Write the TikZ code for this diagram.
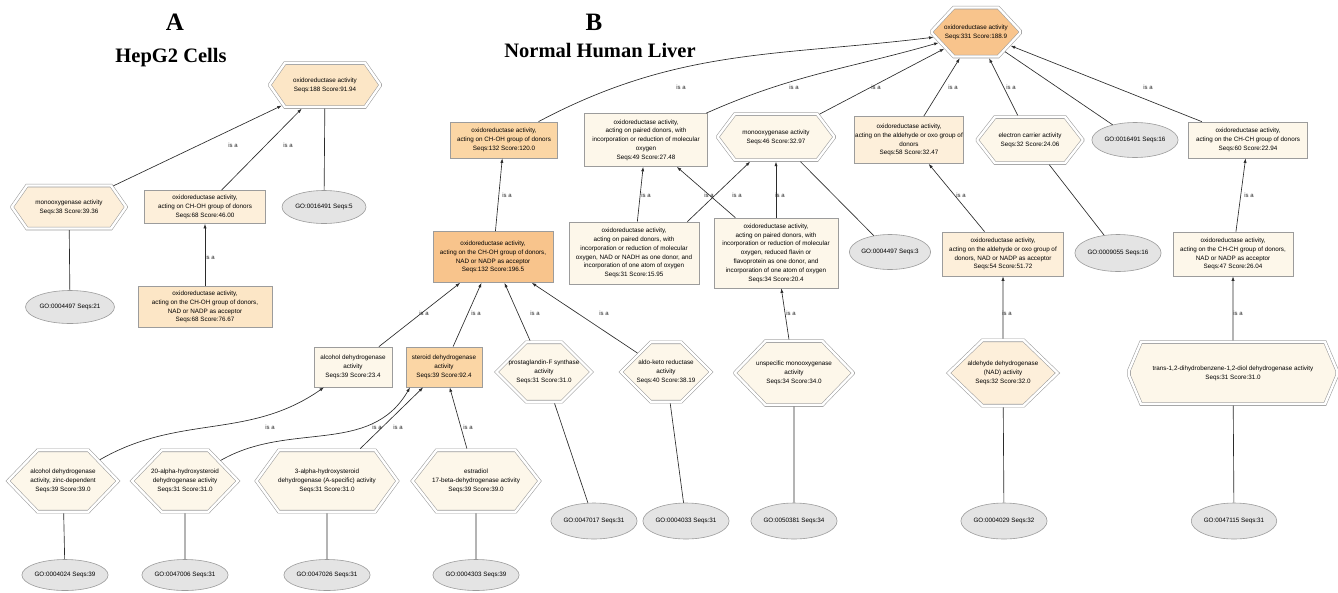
\documentclass[tikz,border=0pt]{standalone}
\usepackage{fontspec}
\setmainfont{Liberation Sans}
\newfontfamily\headfont{Liberation Serif}
\usetikzlibrary{shapes.misc,shapes.geometric,arrows.meta,calc}

\definecolor{linegray}{HTML}{9C9C9C}
\definecolor{edgeink}{HTML}{2B2B2B}
\definecolor{goshade}{HTML}{E4E4E4}
\definecolor{cream}{HTML}{FDF7EA}
\definecolor{pale}{HTML}{FDEFDA}
\definecolor{peach}{HTML}{FCE6C6}
\definecolor{apricot}{HTML}{FBD6A5}
\definecolor{tangerine}{HTML}{F8C48C}

\newcommand\nodefont{\fontsize{6.3}{8.8}\selectfont}

\tikzset{
  box/.style={rectangle, draw=linegray, line width=0.7pt, align=center, inner sep=1pt, font=\nodefont},
  % octagon: horizontal chamfer, vertical chamfer, chamfer angle
  octo/.style n args={3}{chamfered rectangle, chamfered rectangle xsep=#1pt, chamfered rectangle ysep=#2pt,
    chamfered rectangle angle=#3,
    draw=linegray, double=white, double distance=2.4pt, line width=0.55pt, outer sep=1.7pt,
    inner sep=0pt, align=center, font=\nodefont},
  gonode/.style={ellipse, draw=linegray, fill=goshade, line width=0.6pt, inner sep=0pt, font=\nodefont},
  isa/.style={draw=edgeink, line width=0.65pt, -{Latex[length=4.5pt,width=3.2pt]}},
  link/.style={draw=edgeink, line width=0.65pt},
  lbl/.style={font=\fontsize{6}{6}\selectfont, inner sep=0pt, text=black!85},
  head/.style={font=\headfont\bfseries\fontsize{25}{25}\selectfont},
  subhead/.style={font=\headfont\bfseries\fontsize{20.5}{21}\selectfont},
}

\begin{document}
\begin{tikzpicture}[x=1pt,y=-1pt]
\path[fill=white] (0,0) rectangle (1338,592);
\useasboundingbox (0,0) rectangle (1338,592);

% ---------------- panel A ----------------
\node[head] (titleA) at (175,22) {A};
\node[subhead] (subA) at (171,58) {HepG2 Cells};

\node[octo={20}{14}{35}, fill=peach, minimum width=110pt, minimum height=44pt] (A1) at (325,85)
  {oxidoreductase activity\\Seqs:188 Score:91.94};
\node[octo={20}{14}{35}, fill=pale, minimum width=114pt, minimum height=43pt] (A2) at (69,207)
  {monooxygenase activity\\Seqs:38 Score:39.36};
\node[box, fill=pale, minimum width=121pt, minimum height=33pt] (A3) at (205,207)
  {oxidoreductase activity,\\acting on CH-OH group of donors\\Seqs:68 Score:46.00};
\node[gonode, minimum width=84pt, minimum height=33pt] (A4) at (324,207) {GO:0016491 Seqs:5};
\node[gonode, minimum width=89pt, minimum height=33pt] (A5) at (70,307) {GO:0004497 Seqs:21};
\node[box, fill=peach, minimum width=134pt, minimum height=41pt] (A6) at (205,307)
  {oxidoreductase activity,\\acting on the CH-OH group of donors,\\NAD or NADP as acceptor\\Seqs:68 Score:76.67};

\draw[isa] (A2) -- (A1);
\draw[isa] (A3) -- (A1);
\draw[link] (A1) -- (A4);
\draw[link] (A2) -- (A5);
\draw[isa] (A6) -- (A3);
\node[lbl] (la1) at (233,145) {is a};
\node[lbl] (la2) at (288,145) {is a};
\node[lbl] (la3) at (210,257) {is a};

% ---------------- panel B ----------------
\node[head] (titleB) at (594,22) {B};
\node[subhead] (subB) at (600,51) {Normal Human Liver};

% top level
\node[octo={17}{16}{43}, fill=tangerine, minimum width=88pt, minimum height=49pt] (B1) at (976,32)
  {oxidoreductase activity\\Seqs:331 Score:188.9};

% first level
\node[box, fill=apricot, minimum width=107pt, minimum height=36pt] (B2) at (504,140)
  {oxidoreductase activity,\\acting on CH-OH group of donors\\Seqs:132 Score:120.0};
\node[box, fill=cream, minimum width=123pt, minimum height=53pt] (B3) at (646,140)
  {oxidoreductase activity,\\acting on paired donors, with\\incorporation or reduction of molecular\\oxygen\\Seqs:49 Score:27.48};
\node[octo={20}{15}{37}, fill=cream, minimum width=116pt, minimum height=46pt] (B4) at (776,137)
  {monooxygenase activity\\Seqs:46 Score:32.97};
\node[box, fill=pale, minimum width=107pt, minimum height=47pt] (B5) at (909,140)
  {oxidoreductase activity,\\acting on the aldehyde or oxo group of\\donors\\Seqs:58 Score:32.47};
\node[octo={19}{15}{38}, fill=cream, minimum width=105pt, minimum height=46pt] (B6) at (1030,140)
  {electron carrier activity\\Seqs:32 Score:24.06};
\node[gonode, minimum width=78pt, minimum height=35pt] (B7) at (1135,140) {GO:0016491 Seqs:16};
\node[box, fill=cream, minimum width=119pt, minimum height=36pt] (B8) at (1248,140)
  {oxidoreductase activity,\\acting on the CH-CH group of donors\\Seqs:60 Score:22.94};

% second level
\node[box, fill=tangerine, minimum width=120pt, minimum height=51pt] (B9) at (493,257)
  {oxidoreductase activity,\\acting on the CH-OH group of donors,\\NAD or NADP as acceptor\\Seqs:132 Score:196.5};
\node[box, fill=cream, minimum width=130pt, minimum height=62pt] (B10) at (634,253)
  {oxidoreductase activity,\\acting on paired donors, with\\incorporation or reduction of molecular\\oxygen, NAD or NADH as one donor, and\\incorporation of one atom of oxygen\\Seqs:31 Score:15.95};
\node[box, fill=cream, minimum width=124pt, minimum height=70pt] (B11) at (776,253)
  {oxidoreductase activity,\\acting on paired donors, with\\incorporation or reduction of molecular\\oxygen, reduced flavin or\\flavoprotein as one donor, and\\incorporation of one atom of oxygen\\Seqs:34 Score:20.4};
\node[gonode, minimum width=74pt, minimum height=35pt] (B12) at (890,252) {GO:0004497 Seqs:3};
\node[box, fill=pale, minimum width=121pt, minimum height=44pt] (B13) at (1003,254)
  {oxidoreductase activity,\\acting on the aldehyde or oxo group of\\donors, NAD or NADP as acceptor\\Seqs:54 Score:51.72};
\node[gonode, minimum width=80pt, minimum height=37pt] (B14) at (1118,253) {GO:0009055 Seqs:16};
\node[box, fill=cream, minimum width=120pt, minimum height=44pt] (B15) at (1233,254)
  {oxidoreductase activity,\\acting on the CH-CH group of donors,\\NAD or NADP as acceptor\\Seqs:47 Score:26.04};

% third level
\node[box, fill=cream, minimum width=78pt, minimum height=40pt] (B16) at (353,367)
  {alcohol dehydrogenase\\activity\\Seqs:39 Score:23.4};
\node[box, fill=apricot, minimum width=76pt, minimum height=40pt] (B17) at (444,367)
  {steroid dehydrogenase\\activity\\Seqs:39 Score:92.4};
\node[octo={18}{18}{45}, fill=cream, minimum width=95pt, minimum height=56pt] (B18) at (544,372)
  {prostaglandin-F synthase\\activity\\Seqs:31 Score:31.0};
\node[octo={18}{18}{45}, fill=cream, minimum width=90pt, minimum height=56pt] (B19) at (666,372)
  {aldo-keto reductase\\activity\\Seqs:40 Score:38.19};
\node[octo={21}{20}{44}, fill=cream, minimum width=118pt, minimum height=64pt] (B20) at (794,373)
  {unspecific monooxygenase\\activity\\Seqs:34 Score:34.0};
\node[octo={20}{21}{46}, fill=pale, minimum width=109pt, minimum height=64pt] (B21) at (1003,373)
  {aldehyde dehydrogenase\\(NAD) activity\\Seqs:32 Score:32.0};
\node[octo={50}{21}{23}, fill=cream, minimum width=208pt, minimum height=62pt] (B22) at (1233,373)
  {trans-1,2-dihydrobenzene-1,2-diol dehydrogenase activity\\Seqs:31 Score:31.0};

% fourth level
\node[octo={20}{19}{44}, fill=cream, minimum width=110pt, minimum height=60pt] (B23) at (63,481)
  {alcohol dehydrogenase\\activity, zinc-dependent\\Seqs:39 Score:39.0};
\node[octo={20}{19}{44}, fill=cream, minimum width=106pt, minimum height=60pt] (B24) at (185,481)
  {20-alpha-hydroxysteroid\\dehydrogenase activity\\Seqs:31 Score:31.0};
\node[octo={26}{19}{36}, fill=cream, minimum width=141pt, minimum height=60pt] (B25) at (327,481)
  {3-alpha-hydroxysteroid\\dehydrogenase (A-specific) activity\\Seqs:31 Score:31.0};
\node[octo={24}{19}{38}, fill=cream, minimum width=127pt, minimum height=60pt] (B26) at (476,481)
  {estradiol\\17-beta-dehydrogenase activity\\Seqs:39 Score:39.0};

% annotation leaves
\node[gonode, minimum width=79pt, minimum height=36pt] (G1) at (594,521) {GO:0047017 Seqs:31};
\node[gonode, minimum width=79pt, minimum height=36pt] (G2) at (686,521) {GO:0004033 Seqs:31};
\node[gonode, minimum width=79pt, minimum height=36pt] (G3) at (794,521) {GO:0050381 Seqs:34};
\node[gonode, minimum width=79pt, minimum height=36pt] (G4) at (1004,521) {GO:0004029 Seqs:32};
\node[gonode, minimum width=79pt, minimum height=36pt] (G5) at (1234,521) {GO:0047115 Seqs:31};
\node[gonode, minimum width=85pt, minimum height=31pt] (G6) at (65,575) {GO:0004024 Seqs:39};
\node[gonode, minimum width=85pt, minimum height=31pt] (G7) at (185,575) {GO:0047006 Seqs:31};
\node[gonode, minimum width=85pt, minimum height=31pt] (G8) at (327,575) {GO:0047026 Seqs:31};
\node[gonode, minimum width=85pt, minimum height=31pt] (G9) at (476,575) {GO:0004303 Seqs:39};

% edges into the root
\draw[isa] (B2) to[out=28,in=187] (B1);
\draw[isa] (B3) to[out=24,in=196] (B1);
\draw[isa] (B4) -- (B1);
\draw[isa] (B5) -- (B1);
\draw[isa] (B6) -- (B1);
\draw[link] (B1) -- (B7);
\draw[isa] (B8) -- (B1);
\node[lbl] (lb1) at (681,87) {is a};
\node[lbl] (lb2) at (794,87) {is a};
\node[lbl] (lb3) at (876,87) {is a};
\node[lbl] (lb4) at (953,87) {is a};
\node[lbl] (lb5) at (1011,87) {is a};
\node[lbl] (lb6) at (1148,87) {is a};

% first to second level
\draw[isa] (B9) -- (B2);
\draw[isa] (B10) -- (B3);
\draw[isa] (B11) -- (B3);
\draw[isa] ([xshift=-12pt]B10.north east) -- (B4);
\draw[isa] (B11) -- (B4);
\draw[link] (B4) -- (B12);
\draw[isa] (B13) -- (B5);
\draw[link] (B6) -- (B14);
\draw[isa] (B15) -- (B8);
\node[lbl] (lc1) at (507,195) {is a};
\node[lbl] (lc2) at (646,195) {is a};
\node[lbl] (lc3) at (709,195) {is a};
\node[lbl] (lc4) at (737,195) {is a};
\node[lbl] (lc5) at (780,195) {is a};
\node[lbl] (lc6) at (961,195) {is a};
\node[lbl] (lc7) at (1249,195) {is a};

% second to third level
\draw[isa] (B16) -- (B9);
\draw[isa] (B17) -- (B9);
\draw[isa] (B18) -- (B9);
\draw[isa] (B19) -- (B9);
\draw[isa] (B20) -- (B11);
\draw[isa] (B21) -- (B13);
\draw[isa] (B22) -- (B15);
\node[lbl] (ld1) at (424,313) {is a};
\node[lbl] (ld2) at (476,313) {is a};
\node[lbl] (ld3) at (535,313) {is a};
\node[lbl] (ld4) at (604,313) {is a};
\node[lbl] (ld5) at (791,313) {is a};
\node[lbl] (ld6) at (1007,313) {is a};
\node[lbl] (ld7) at (1238,313) {is a};

\draw[link] (B18) -- (G1);
\draw[link] (B19) -- (G2);
\draw[link] (B20) -- (G3);
\draw[link] (B21) -- (G4);
\draw[link] (B22) -- (G5);

% third to fourth level
\draw[isa] (B23) to[out=30,in=215] (B16);
\draw[isa] (B24) to[out=30,in=240] ([xshift=-34pt]B17.south);
\draw[isa] (B25) -- (B17);
\draw[isa] (B26) -- (B17);
\node[lbl] (le1) at (270,427) {is a};
\node[lbl] (le2) at (377,427) {is a};
\node[lbl] (le3) at (398,427) {is a};
\node[lbl] (le4) at (468,427) {is a};

\draw[link] (B23) -- (G6);
\draw[link] (B24) -- (G7);
\draw[link] (B25) -- (G8);
\draw[link] (B26) -- (G9);
\end{tikzpicture}
\end{document}
